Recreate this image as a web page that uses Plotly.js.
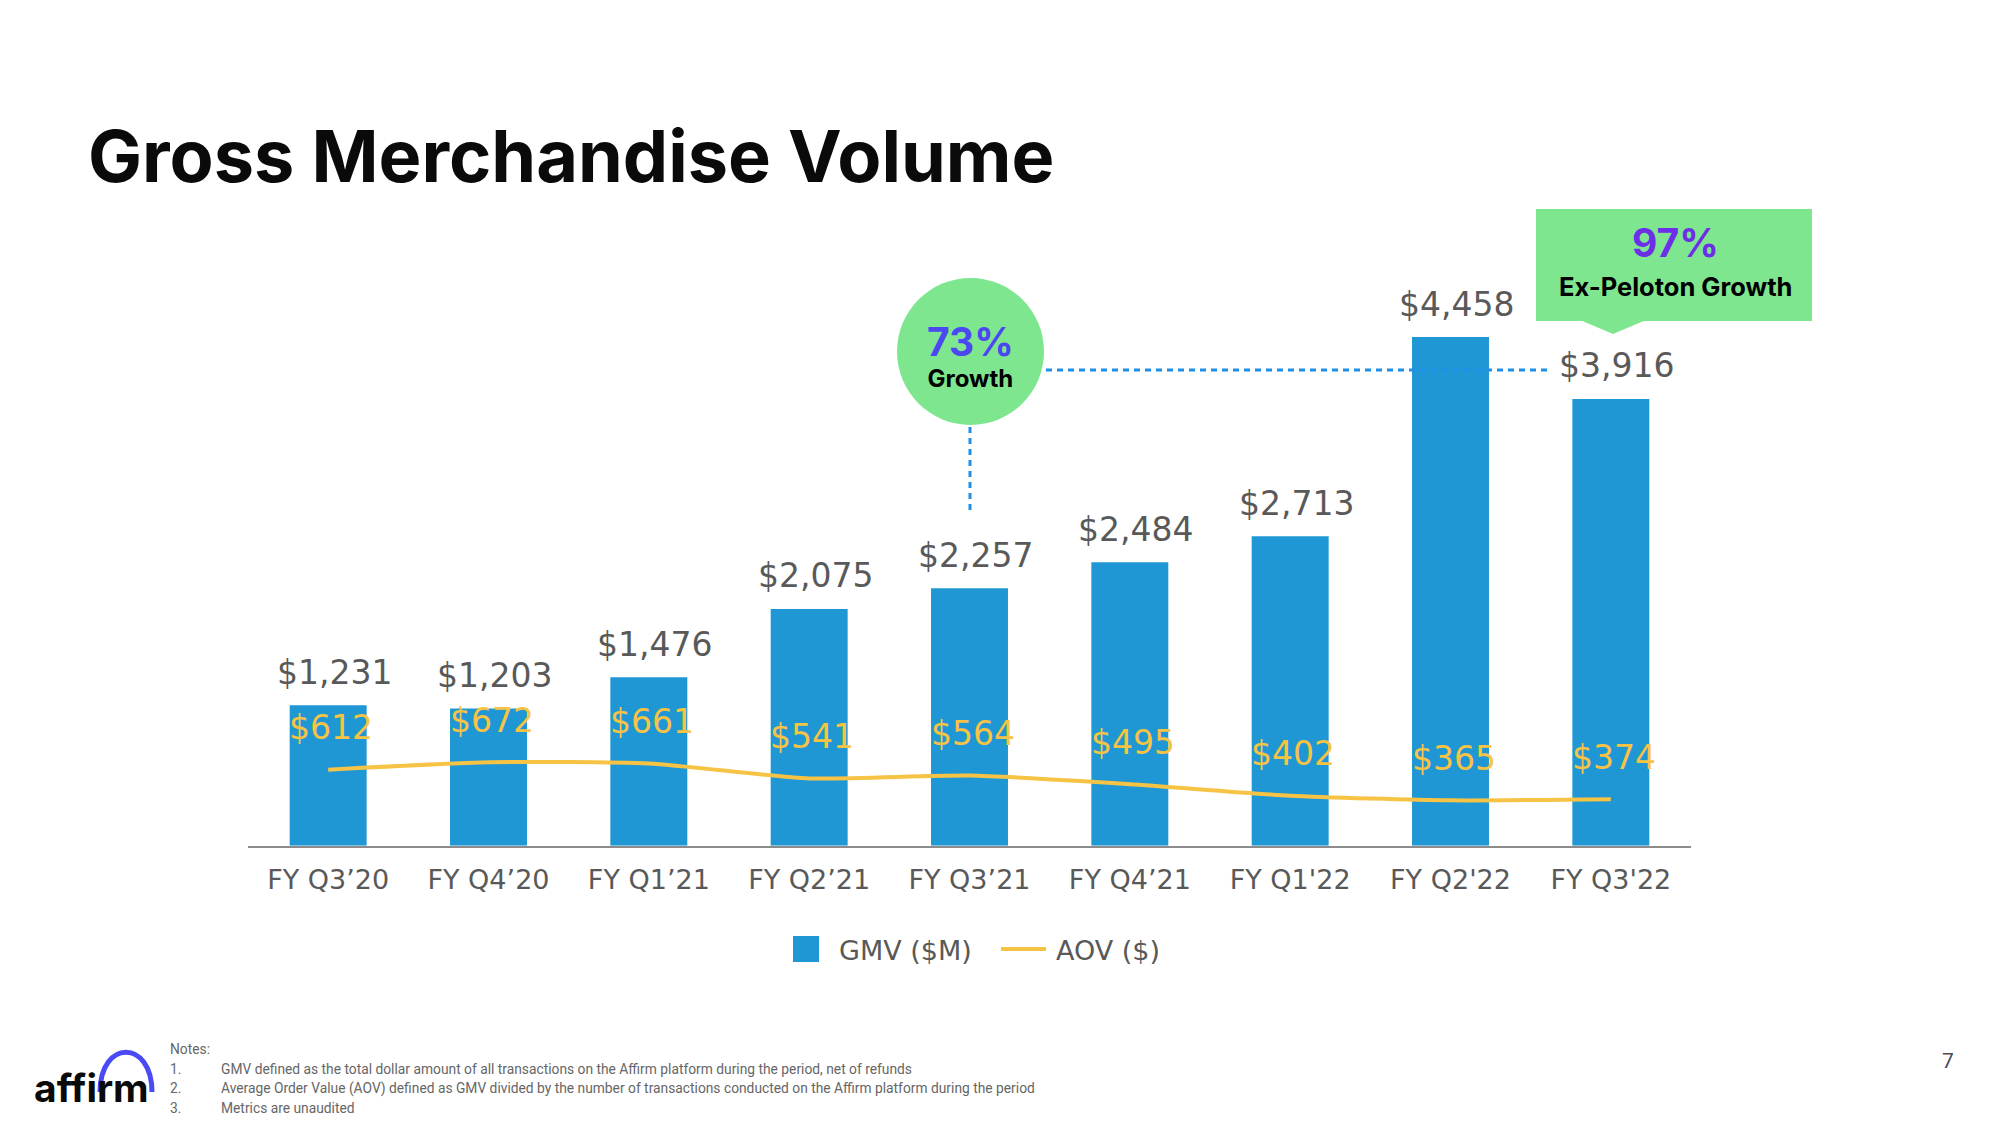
<!DOCTYPE html>
<html>
<head>
<meta charset="utf-8">
<script src="https://cdn.plot.ly/plotly-3.0.1.min.js"></script>
<style>
html,body{margin:0;padding:0;background:#fff;}
#chart{width:2000px;height:1125px;}
</style>
</head>
<body>
<div id="chart"></div>
<script>
// ---- data ----
const categories = ["FY Q3’20","FY Q4’20","FY Q1’21","FY Q2’21","FY Q3’21","FY Q4’21","FY Q1'22","FY Q2'22","FY Q3'22"];
const gmv = [1231, 1203, 1476, 2075, 2257, 2484, 2713, 4458, 3916];
const aov = [612, 672, 661, 541, 564, 495, 402, 365, 374];
const gmvName = "GMV ($M)";
const aovName = "AOV ($)";
const titleText = "Gross Merchandise Volume";
const growthPct = "73%";
const growthLabel = "Growth";
const exPelotonPct = "97%";
const exPelotonLabel = "Ex-Peloton Growth";
const notes = [
  "Notes:",
  "GMV defined as the total dollar amount of all transactions on the Affirm platform during the period, net of refunds",
  "Average Order Value (AOV) defined as GMV divided by the number of transactions conducted on the Affirm platform during the period",
  "Metrics are unaudited"
];

// ---- helpers: page pixel -> paper coords (margins are zero) ----
const W = 2000, H = 1125;
const px = x => x / W;
const py = y => 1 - y / H;
const fmt = v => "$" + v.toLocaleString("en-US");

const BLUE = "#2097D5", YELLOW = "#F7C344", GREY = "#595959", GREEN = "#7EE68E", DOT = "#1E90E8";
const FONT = "DejaVu Sans";
const BOLDFONT = "Inter";
const NOTEFONT = "Roboto";

const traces = [
  {type: "bar", name: gmvName, x: categories, y: gmv, marker: {color: BLUE}, width: 0.48,
   yaxis: "y", hoverinfo: "skip", showlegend: false},
  {type: "scatter", mode: "lines", name: aovName, x: categories, y: aov, yaxis: "y2",
   line: {color: YELLOW, width: 4, shape: "spline", smoothing: 0.6}, hoverinfo: "skip", showlegend: false}
];

const annotations = [];
categories.forEach((c, i) => {
  annotations.push({x: c, y: gmv[i], xref: "x", yref: "y", text: fmt(gmv[i]), showarrow: false,
    yanchor: "middle", yshift: 33, xshift: 6, font: {family: FONT, size: 33, color: GREY}});
  annotations.push({x: c, y: aov[i], xref: "x", yref: "y2", text: fmt(aov[i]), showarrow: false,
    yanchor: "middle", yshift: 42, xshift: 3, font: {family: FONT, size: 33, color: YELLOW}});
});

// circle callout (two lines in one text block)
annotations.push({xref: "paper", yref: "paper", x: px(970), y: py(355),
  text: "<span style='font-size:39px;color:#4B48F2'><b>" + growthPct + "</b></span><br><b>" + growthLabel + "</b>",
  showarrow: false, xanchor: "center", yanchor: "middle", font: {family: BOLDFONT, size: 24, color: "#000"}});
// box callout
annotations.push({xref: "paper", yref: "paper", x: px(1675), y: py(242), text: "<b>" + exPelotonPct + "</b>",
  showarrow: false, xanchor: "center", yanchor: "middle", font: {family: BOLDFONT, size: 39, color: "#6D2EE8"}});
annotations.push({xref: "paper", yref: "paper", x: px(1675), y: py(287), text: "<b>" + exPelotonLabel + "</b>",
  showarrow: false, xanchor: "center", yanchor: "middle", font: {family: BOLDFONT, size: 25.5, color: "#000"}});

// legend (custom)
annotations.push({xref: "paper", yref: "paper", x: px(837), y: py(950), text: gmvName, showarrow: false,
  xanchor: "left", yanchor: "middle", font: {family: FONT, size: 27, color: GREY}});
annotations.push({xref: "paper", yref: "paper", x: px(1054), y: py(950), text: aovName, showarrow: false,
  xanchor: "left", yanchor: "middle", font: {family: FONT, size: 27, color: GREY}});

// notes
annotations.push({xref: "paper", yref: "paper", x: px(168), y: py(1049), text: notes[0], showarrow: false,
  xanchor: "left", yanchor: "middle", font: {family: NOTEFONT, size: 13.8, color: "#666"}});
for (let i = 1; i < notes.length; i++) {
  const yy = 1049 + 19.5 * i;
  annotations.push({xref: "paper", yref: "paper", x: px(168), y: py(yy), text: i + ".", showarrow: false,
    xanchor: "left", yanchor: "middle", font: {family: NOTEFONT, size: 13.8, color: "#666"}});
  annotations.push({xref: "paper", yref: "paper", x: px(219), y: py(yy), text: notes[i], showarrow: false,
    xanchor: "left", yanchor: "middle", font: {family: NOTEFONT, size: 13.8, color: "#666"}});
}
// logo text and page number
annotations.push({xref: "paper", yref: "paper", x: px(32), y: py(1087), text: "<b>affirm</b>", showarrow: false,
  xanchor: "left", yanchor: "middle", font: {family: BOLDFONT, size: 39, color: "#0A0A0A"}});
annotations.push({xref: "paper", yref: "paper", x: px(1948), y: py(1061), text: "7", showarrow: false,
  xanchor: "center", yanchor: "middle", font: {family: NOTEFONT, size: 21, color: "#4A4A5A"}});

const shapes = [
  // circle
  {type: "circle", xref: "paper", yref: "paper", x0: px(897), x1: px(1044), y0: py(425), y1: py(278),
   fillcolor: GREEN, line: {width: 0}, layer: "below"},
  // box + pointer
  {type: "rect", xref: "paper", yref: "paper", x0: px(1536), x1: px(1812), y0: py(321), y1: py(209),
   fillcolor: GREEN, line: {width: 0}, layer: "below"},
  {type: "path", xref: "paper", yref: "paper",
   path: `M ${px(1580)},${py(320)} L ${px(1613)},${py(334)} L ${px(1646)},${py(320)} Z`,
   fillcolor: GREEN, line: {width: 0}, layer: "below"},
  // dotted connectors
  {type: "line", xref: "paper", yref: "paper", x0: px(1046), x1: px(1552), y0: py(370), y1: py(370),
   line: {color: DOT, width: 3, dash: "6px,5px"}},
  {type: "line", xref: "paper", yref: "paper", x0: px(970), x1: px(970), y0: py(427), y1: py(514),
   line: {color: DOT, width: 3, dash: "6px,5px"}},
  // legend symbols
  {type: "rect", xref: "paper", yref: "paper", x0: px(793), x1: px(819), y0: py(962), y1: py(936),
   fillcolor: BLUE, line: {width: 0}},
  {type: "line", xref: "paper", yref: "paper", x0: px(1001), x1: px(1046), y0: py(949), y1: py(949),
   line: {color: YELLOW, width: 4}},
  // logo arc
  {type: "path", xref: "paper", yref: "paper",
   path: `M ${px(100)},${py(1092)} C ${px(100)},${py(1039)} ${px(152)},${py(1039)} ${px(152)},${py(1092)}`,
   line: {color: "#4A4AF4", width: 5}}
];

const layout = {
  width: W, height: H,
  margin: {l: 0, r: 0, t: 0, b: 0},
  paper_bgcolor: "#fff", plot_bgcolor: "rgba(0,0,0,0)",
  showlegend: false,
  title: {text: "<b>" + titleText + "</b>", x: px(88), xanchor: "left", xref: "paper",
          y: 1 - 157 / H, yref: "container", yanchor: "middle",
          font: {family: BOLDFONT, size: 72, color: "#0A0A0A"}},
  xaxis: {domain: [px(248), px(1691)], type: "category", range: [-0.5, 8.5],
          showline: true, linecolor: "#8C8C8C", linewidth: 2, ticks: "", showgrid: false, zeroline: false,
          tickfont: {family: FONT, size: 27, color: GREY}, ticklabelstandoff: 9, fixedrange: true},
  yaxis: {domain: [py(845.7), py(275.2)], range: [0, 5000], visible: false, showgrid: false, zeroline: false, fixedrange: true},
  yaxis2: {domain: [py(845.7), py(275.2)], range: [0, 4590], overlaying: "y", visible: false, showgrid: false, zeroline: false, fixedrange: true},
  annotations: annotations,
  shapes: shapes
};

Plotly.newPlot("chart", traces, layout, {displayModeBar: false, staticPlot: true});
</script>
</body>
</html>
